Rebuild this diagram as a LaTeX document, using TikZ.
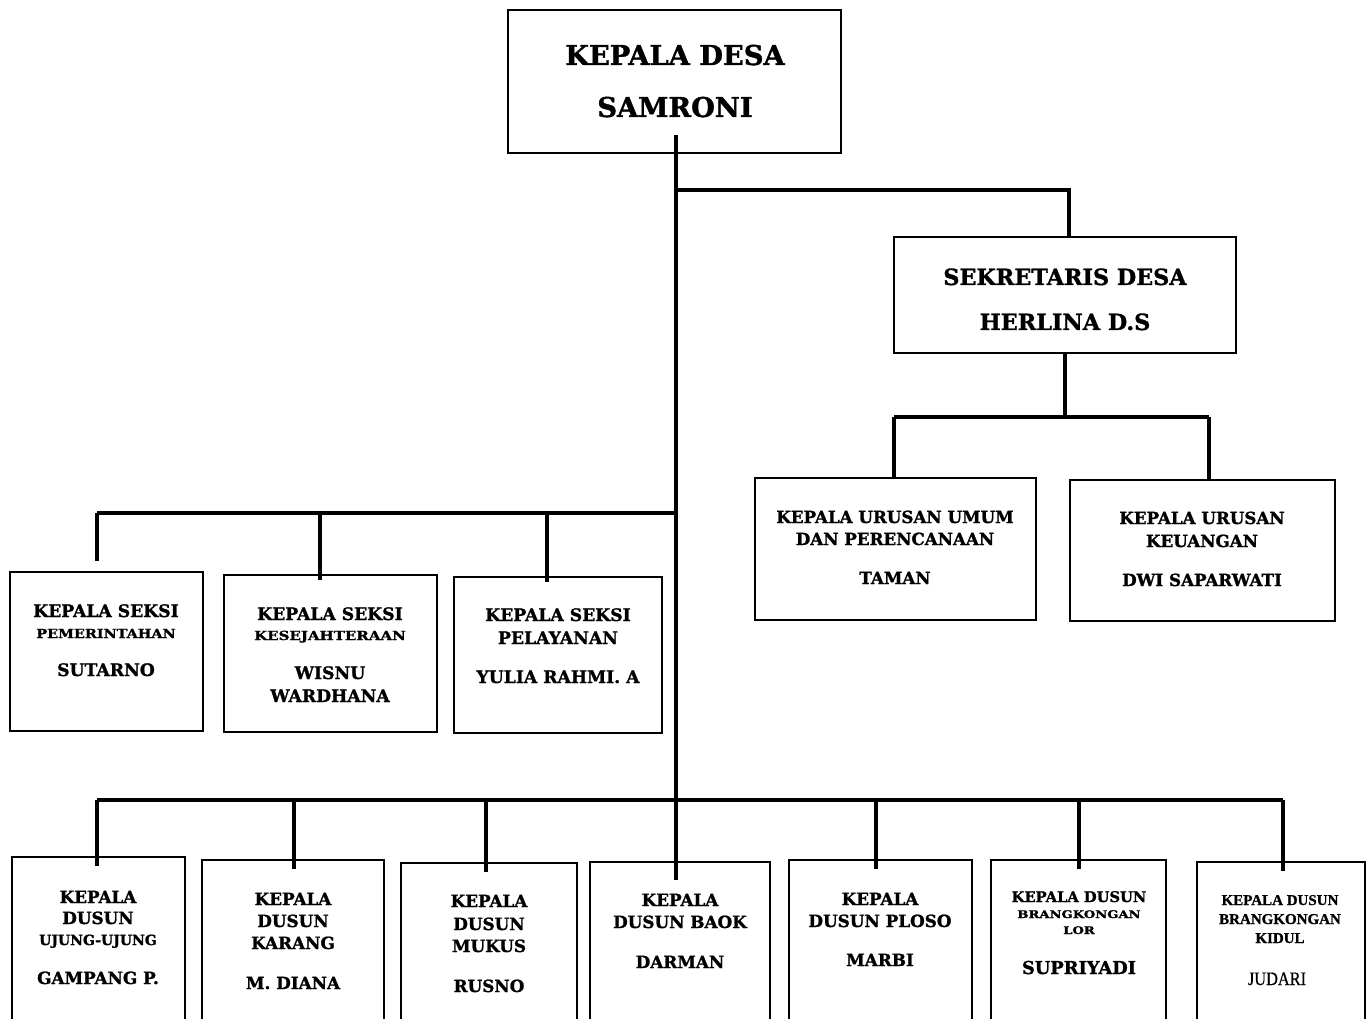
\documentclass[tikz,border=0pt]{standalone}
\usepackage{fontspec}
\setmainfont{DejaVu Serif}[BoldFeatures={FakeBold=1.3}]
\newfontfamily\narrowserif{Liberation Serif}[BoldFeatures={FakeBold=1}]
\newfontfamily\judfont{Liberation Serif}[FakeBold=0.7]
\newcommand{\fs}[1]{\fontsize{#1}{#1}\selectfont}
\newcommand{\wide}[2]{\scalebox{#1}[1]{#2}}
\tikzset{
  orgbox/.style={draw, line width=1.9pt, inner sep=0pt, fill=white},
  conn/.style={line width=3.1pt},
  txt/.style={anchor=base, inner sep=0pt, font=\bfseries},
}
% name, x1, y1, x2, y2
\newcommand{\mkbox}[5]{\node[orgbox, minimum width={(#4-#2)*1pt}, minimum height={(#5-#3)*1pt}] (#1) at ({(#2+#4)/2},{(#3+#5)/2}) {};}
% name, x, baseline y, size, text
\newcommand{\tl}[5]{\node[txt] (#1) at (#2,#3) {\fs{#4}#5};}
\begin{document}
\begin{tikzpicture}[x=1pt,y=-1pt]
\useasboundingbox (0,0) rectangle (1369,1019);
\clip (0,0) rectangle (1369,1019);
\fill[white] (0,0) rectangle (1369,1019);

% coordinates of buses
\coordinate (hsek) at (0,190);
\coordinate (hur) at (0,417);
\coordinate (hsk) at (0,513);
\coordinate (hds) at (0,800);

% ---------- boxes
\mkbox{kades}{508}{10}{841}{153}
\mkbox{sek}{894}{237}{1236}{353}
\mkbox{ur1}{755}{478}{1036}{620}
\mkbox{ur2}{1070}{480}{1335}{621}
\mkbox{s1}{10}{572}{203}{731}
\mkbox{s2}{224}{575}{437}{732}
\mkbox{s3}{454}{577}{662}{733}
\mkbox{d1}{12}{857}{185}{1040}
\mkbox{d2}{202}{860}{384}{1040}
\mkbox{d3}{401}{863}{577}{1040}
\mkbox{d4}{590}{862}{770}{1040}
\mkbox{d5}{789}{860}{972}{1040}
\mkbox{d6}{991}{860}{1166}{1040}
\mkbox{d7}{1197}{862}{1365}{1040}

% bus points
\coordinate (m0) at (676,135);
\coordinate (m1) at (676,880);
\coordinate (sekr) at (1069,190);
\coordinate (urL) at (894,417);
\coordinate (urR) at (1209,417);
\coordinate (sk1) at (97,513);
\coordinate (sk2) at (320,513);
\coordinate (sk3) at (547,513);
\coordinate (ds1) at (97,800);
\coordinate (ds2) at (294,800);
\coordinate (ds3) at (486,800);
\coordinate (ds5) at (876,800);
\coordinate (ds6) at (1079,800);
\coordinate (ds7) at (1283,800);

% main trunk
\draw[conn] (m0) -- (m1);
% sekretaris branch
\draw[conn] (m0 |- hsek) -- (sekr) -- (sekr |- sek.north);
% urusan
\draw[conn] (sek.south) -- (sek.south |- hur);
\draw[conn] (urL) -- (urR);
\draw[conn] (urL) -- (urL |- ur1.north);
\draw[conn] (urR) -- (urR |- ur2.north);
% seksi
\draw[conn] (sk1) -- (m0 |- hsk);
\draw[conn] (sk1) -- ([yshift=10pt]sk1 |- s1.north);
\draw[conn] (sk2) -- ([yshift=-6pt]sk2 |- s2.north);
\draw[conn] (sk3) -- ([yshift=-6pt]sk3 |- s3.north);
% dusun
\draw[conn] (ds1) -- (ds7);
\draw[conn] (ds1) -- ([yshift=-10pt]ds1 |- d1.north);
\draw[conn] (ds2) -- ([yshift=-10pt]ds2 |- d2.north);
\draw[conn] (ds3) -- ([yshift=-10pt]ds3 |- d3.north);
\draw[conn] (ds5) -- ([yshift=-10pt]ds5 |- d5.north);
\draw[conn] (ds6) -- ([yshift=-10pt]ds6 |- d6.north);
\draw[conn] (ds7) -- ([yshift=-10pt]ds7 |- d7.north);

% ---------- texts
\tl{t1}{675}{65}{27.3}{KEPALA DESA}
\tl{t2}{675}{117}{27.3}{SAMRONI}

\tl{t3}{1065}{285}{22.3}{SEKRETARIS DESA}
\tl{t4}{1065}{330}{22.3}{HERLINA D.S}

\tl{u1a}{895}{523}{16.7}{KEPALA URUSAN UMUM}
\tl{u1b}{895}{545}{16.7}{DAN PERENCANAAN}
\tl{u1c}{895}{584}{16.7}{TAMAN}
\tl{u2a}{1202}{524}{16.7}{KEPALA URUSAN}
\tl{u2b}{1202}{547}{16.7}{KEUANGAN}
\tl{u2c}{1202}{586}{16.7}{DWI SAPARWATI}

\tl{s1a}{106}{617}{17.2}{KEPALA SEKSI}
\tl{s1b}{106}{638}{12.5}{\wide{1.15}{PEMERINTAHAN}}
\tl{s1c}{106}{676}{17.2}{SUTARNO}
\tl{s2a}{330}{620}{17.2}{KEPALA SEKSI}
\tl{s2b}{330}{640}{12.5}{\wide{1.2}{KESEJAHTERAAN}}
\tl{s2c}{330}{679}{17.2}{WISNU}
\tl{s2d}{330}{702}{17.2}{WARDHANA}
\tl{s3a}{558}{621}{17.2}{KEPALA SEKSI}
\tl{s3b}{558}{644}{17.2}{PELAYANAN}
\tl{s3c}{558}{683}{17.2}{YULIA RAHMI. A}

\tl{d1a}{98}{903}{16.8}{KEPALA}
\tl{d1b}{98}{924}{16.8}{DUSUN}
\tl{d1c}{98}{945}{14}{UJUNG-UJUNG}
\tl{d1d}{98}{984}{16.8}{GAMPANG P.}
\tl{d2a}{293}{905}{16.8}{KEPALA}
\tl{d2b}{293}{927}{16.8}{DUSUN}
\tl{d2c}{293}{949}{16.8}{KARANG}
\tl{d2d}{293}{989}{16.8}{M. DIANA}
\tl{d3a}{489}{907}{16.8}{KEPALA}
\tl{d3b}{489}{930}{16.8}{DUSUN}
\tl{d3c}{489}{952}{16.8}{MUKUS}
\tl{d3d}{489}{992}{16.8}{RUSNO}
\tl{d4a}{680}{906}{16.8}{KEPALA}
\tl{d4b}{680}{928}{16.8}{DUSUN BAOK}
\tl{d4c}{680}{968}{16.8}{DARMAN}
\tl{d5a}{880}{905}{16.8}{KEPALA}
\tl{d5b}{880}{927}{16.8}{DUSUN PLOSO}
\tl{d5c}{880}{966}{16.8}{MARBI}
\tl{d6a}{1079}{902}{14.7}{KEPALA DUSUN}
\tl{d6b}{1079}{918}{10.5}{\wide{1.25}{BRANGKONGAN}}
\tl{d6c}{1079}{934}{10.5}{\wide{1.25}{LOR}}
\tl{d6d}{1079}{974}{17.8}{SUPRIYADI}
\tl{d7a}{1280}{905}{15}{\narrowserif KEPALA DUSUN}
\tl{d7b}{1280}{924}{15}{\narrowserif BRANGKONGAN}
\tl{d7c}{1280}{943}{15}{\narrowserif KIDUL}
\node[anchor=base, inner sep=0pt] (d7d) at (1277,985) {\fs{19}\judfont\wide{0.86}{JUDARI}};
\end{tikzpicture}
\end{document}
